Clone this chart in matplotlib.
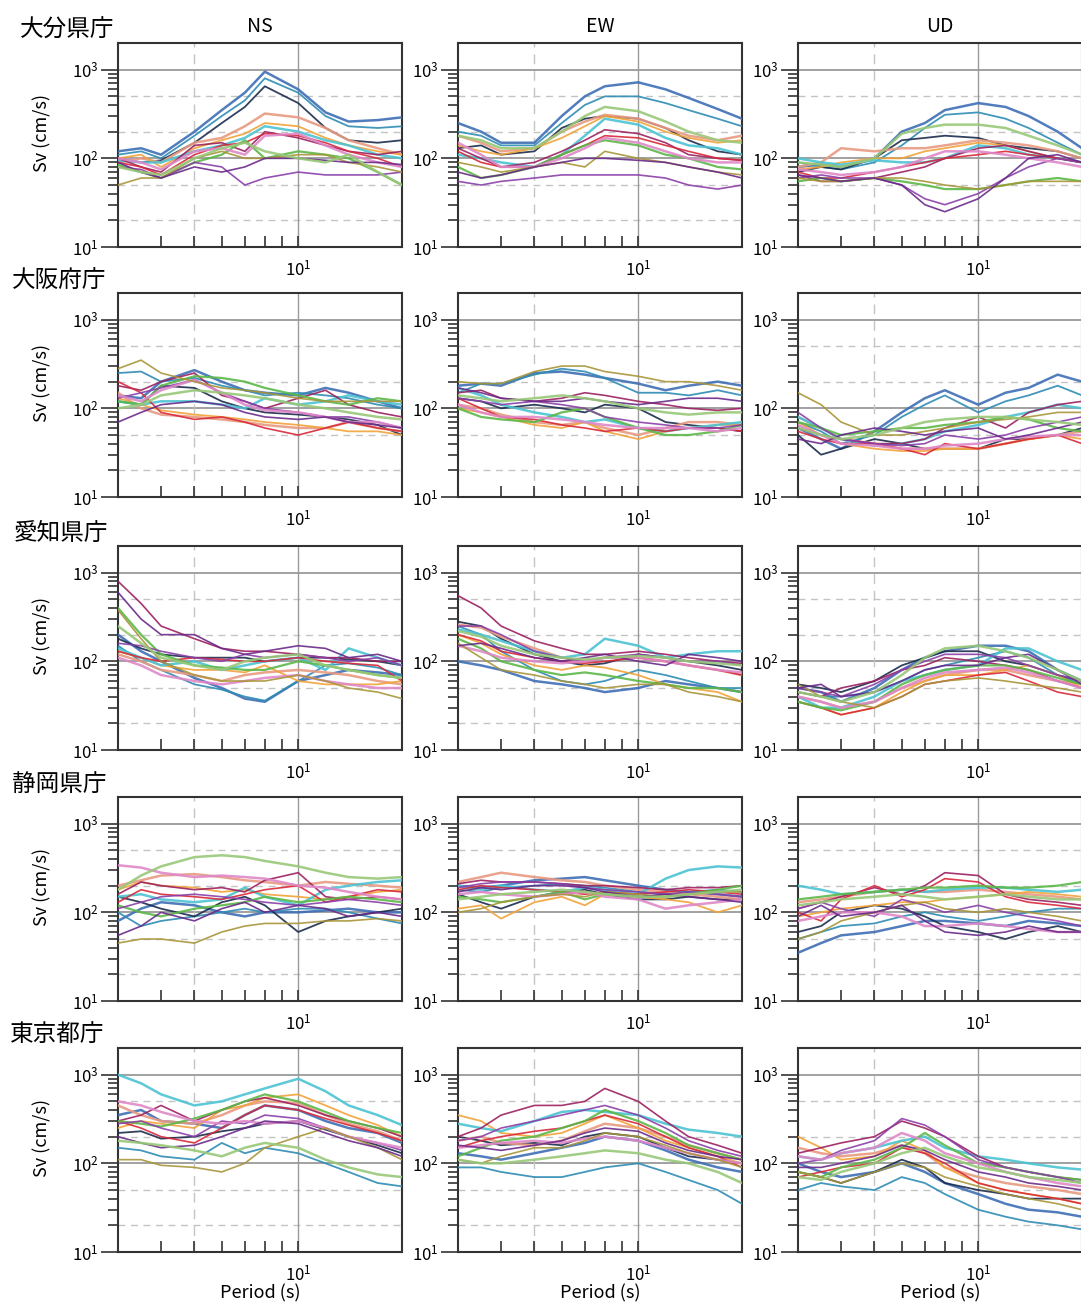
import matplotlib
matplotlib.use("Agg")
import matplotlib.pyplot as plt
from matplotlib.ticker import FixedLocator, NullFormatter

plt.rcParams['font.family'] = ['Noto Sans CJK JP', 'DejaVu Sans']
plt.rcParams['mathtext.fontset'] = 'custom'
plt.rcParams['mathtext.rm'] = 'Noto Sans CJK JP'

period = [3, 3.5, 4, 5, 6, 7, 8, 10, 12, 14, 17, 20]

stations = ["大分県庁", "大阪府庁", "愛知県庁", "静岡県庁", "東京都庁"]
station_x = [20, 12, 14, 12, 10]
components = ["NS", "EW", "UD"]

colors = ['#3f6fb5', '#2e8cb4', '#1c2c4c', '#e89a82', '#f2a33a', '#4cc3d2', '#9c2060',
          '#d8283a', '#5cb848', '#8a3fa8', '#df88c8', '#a89538', '#6a2a8a', '#98c878']
widths = [1.8, 1.3, 1.3, 1.8, 1.3, 1.8, 1.2, 1.2, 1.6, 1.2, 1.8, 1.2, 1.2, 1.8]

# Sv (cm/s), one row per record
oita_ns = [
    [120, 130, 110, 200, 350, 550, 950, 600, 330, 260, 270, 290],
    [110, 120, 100, 180, 300, 450, 800, 550, 300, 230, 220, 230],
    [100, 90, 95, 150, 250, 380, 650, 420, 220, 160, 150, 160],
    [90, 100, 90, 150, 170, 230, 320, 290, 220, 160, 130, 110],
    [100, 110, 80, 130, 160, 190, 250, 230, 170, 140, 120, 110],
    [95, 90, 90, 120, 140, 170, 230, 200, 160, 140, 110, 100],
    [100, 80, 70, 140, 150, 120, 200, 170, 140, 120, 110, 120],
    [90, 80, 65, 110, 140, 150, 190, 180, 150, 120, 100, 80],
    [85, 70, 60, 90, 110, 160, 100, 120, 110, 100, 70, 50],
    [80, 75, 60, 90, 80, 50, 60, 70, 65, 65, 65, 70],
    [100, 90, 75, 120, 130, 110, 180, 190, 140, 110, 90, 80],
    [50, 60, 60, 100, 120, 100, 100, 110, 110, 90, 80, 70],
    [90, 70, 60, 80, 70, 80, 100, 100, 95, 90, 90, 85],
    [80, 70, 65, 100, 130, 150, 120, 100, 90, 110, 70, 50],
]
oita_ew = [
    [250, 200, 150, 150, 300, 500, 650, 720, 600, 480, 360, 280],
    [200, 180, 140, 140, 250, 400, 500, 500, 420, 350, 280, 230],
    [130, 140, 110, 120, 220, 280, 300, 280, 220, 160, 120, 110],
    [180, 150, 120, 130, 200, 260, 310, 280, 220, 180, 160, 180],
    [140, 120, 110, 130, 170, 230, 300, 260, 200, 170, 150, 160],
    [110, 100, 90, 80, 110, 180, 280, 240, 170, 140, 130, 110],
    [130, 100, 80, 90, 120, 160, 210, 190, 150, 110, 100, 95],
    [120, 90, 80, 80, 110, 140, 180, 170, 140, 120, 100, 95],
    [80, 60, 65, 80, 110, 140, 160, 140, 110, 100, 80, 75],
    [55, 50, 55, 60, 65, 65, 65, 65, 60, 50, 45, 50],
    [150, 110, 80, 80, 100, 130, 170, 150, 120, 100, 90, 90],
    [90, 80, 70, 80, 90, 80, 120, 100, 90, 80, 70, 65],
    [70, 60, 65, 80, 90, 100, 100, 95, 90, 80, 70, 60],
    [180, 160, 130, 130, 200, 300, 380, 340, 260, 200, 160, 150],
]
oita_ud = [
    [80, 85, 80, 100, 200, 250, 350, 420, 380, 300, 200, 130],
    [90, 80, 75, 90, 140, 220, 310, 330, 280, 220, 150, 110],
    [70, 80, 75, 100, 160, 170, 180, 170, 140, 130, 120, 100],
    [80, 90, 130, 120, 130, 130, 140, 160, 150, 140, 120, 100],
    [75, 80, 90, 100, 100, 120, 130, 150, 140, 120, 100, 90],
    [100, 90, 85, 95, 90, 90, 100, 140, 130, 110, 100, 90],
    [65, 55, 55, 60, 70, 80, 100, 130, 140, 120, 100, 90],
    [70, 60, 60, 70, 80, 90, 100, 110, 120, 110, 100, 90],
    [55, 60, 55, 60, 55, 50, 45, 45, 50, 55, 60, 55],
    [60, 65, 60, 60, 50, 35, 30, 40, 60, 80, 100, 90],
    [75, 70, 65, 70, 80, 100, 120, 120, 110, 100, 90, 80],
    [60, 55, 55, 60, 60, 55, 50, 45, 50, 55, 55, 55],
    [65, 60, 55, 60, 50, 30, 25, 35, 60, 100, 110, 90],
    [90, 85, 80, 100, 190, 220, 240, 240, 220, 180, 140, 110],
]
osaka_ns = [
    [140, 130, 200, 270, 200, 160, 150, 140, 170, 150, 120, 100],
    [250, 260, 200, 220, 180, 160, 140, 150, 140, 130, 110, 100],
    [120, 110, 180, 170, 120, 100, 90, 85, 80, 75, 65, 50],
    [150, 100, 85, 80, 75, 70, 65, 60, 60, 70, 60, 55],
    [130, 110, 95, 85, 80, 75, 70, 65, 60, 55, 55, 50],
    [120, 110, 120, 120, 110, 100, 130, 110, 120, 140, 120, 110],
    [180, 160, 200, 250, 140, 120, 100, 130, 160, 110, 90, 80],
    [200, 150, 90, 75, 80, 70, 60, 50, 60, 70, 60, 55],
    [120, 110, 180, 230, 220, 200, 170, 140, 120, 110, 130, 120],
    [130, 150, 170, 210, 150, 120, 100, 90, 80, 80, 70, 60],
    [140, 120, 160, 210, 150, 110, 95, 90, 80, 70, 70, 60],
    [280, 350, 250, 200, 170, 160, 150, 130, 120, 120, 120, 120],
    [70, 90, 110, 120, 110, 90, 80, 75, 80, 70, 65, 60],
    [100, 110, 140, 160, 150, 140, 130, 110, 100, 90, 80, 75],
]
osaka_ew = [
    [180, 190, 180, 250, 260, 240, 220, 190, 160, 180, 200, 180],
    [150, 190, 190, 240, 280, 260, 220, 150, 150, 140, 160, 140],
    [130, 120, 100, 110, 100, 90, 110, 100, 70, 65, 60, 55],
    [110, 100, 85, 70, 65, 70, 60, 50, 60, 70, 70, 65],
    [100, 90, 80, 65, 60, 70, 55, 45, 55, 60, 65, 65],
    [170, 140, 110, 90, 80, 70, 75, 60, 55, 60, 65, 70],
    [150, 160, 130, 120, 130, 150, 140, 120, 110, 100, 95, 100],
    [130, 100, 80, 75, 65, 60, 55, 60, 55, 60, 60, 55],
    [100, 80, 75, 70, 90, 100, 80, 60, 50, 50, 55, 65],
    [130, 120, 110, 120, 110, 100, 80, 70, 65, 60, 60, 65],
    [110, 90, 80, 80, 75, 70, 65, 60, 60, 60, 55, 60],
    [200, 190, 190, 260, 300, 300, 260, 230, 200, 200, 180, 160],
    [170, 150, 130, 120, 120, 130, 120, 110, 120, 130, 130, 120],
    [140, 130, 120, 130, 140, 130, 120, 100, 90, 85, 90, 90],
]
osaka_ud = [
    [60, 45, 35, 55, 90, 130, 160, 110, 150, 170, 240, 200],
    [70, 55, 40, 50, 80, 110, 140, 90, 120, 140, 180, 140],
    [50, 30, 35, 45, 40, 35, 35, 35, 45, 45, 50, 60],
    [80, 60, 45, 40, 35, 35, 35, 35, 40, 45, 50, 55],
    [70, 50, 40, 35, 33, 33, 35, 35, 40, 45, 50, 45],
    [80, 60, 45, 38, 40, 45, 55, 65, 80, 90, 110, 100],
    [60, 50, 45, 40, 40, 45, 60, 80, 60, 90, 110, 120],
    [55, 45, 40, 40, 35, 30, 40, 35, 40, 45, 50, 40],
    [70, 60, 50, 55, 60, 60, 65, 70, 80, 75, 60, 55],
    [90, 60, 45, 40, 38, 40, 50, 45, 50, 60, 70, 80],
    [65, 50, 40, 38, 35, 35, 38, 40, 45, 48, 50, 50],
    [150, 110, 70, 50, 50, 55, 60, 70, 75, 80, 90, 90],
    [45, 40, 50, 60, 55, 50, 55, 60, 45, 50, 60, 70],
    [60, 50, 45, 50, 60, 70, 75, 80, 80, 75, 70, 65],
]
aichi_ns = [
    [200, 130, 100, 65, 50, 38, 35, 60, 70, 80, 75, 70],
    [150, 100, 80, 55, 48, 40, 36, 60, 90, 95, 85, 70],
    [180, 140, 120, 110, 110, 110, 100, 110, 110, 105, 100, 90],
    [120, 100, 80, 70, 60, 70, 75, 80, 75, 70, 60, 55],
    [130, 110, 90, 80, 80, 75, 90, 60, 55, 55, 55, 60],
    [140, 110, 90, 100, 80, 90, 100, 110, 80, 140, 110, 90],
    [800, 450, 250, 180, 140, 130, 130, 120, 110, 110, 100, 100],
    [130, 110, 100, 110, 105, 100, 100, 110, 100, 95, 90, 60],
    [400, 200, 120, 90, 85, 80, 80, 100, 90, 80, 70, 65],
    [160, 150, 130, 110, 100, 120, 110, 120, 110, 100, 110, 90],
    [110, 90, 70, 60, 55, 60, 65, 70, 60, 55, 50, 50],
    [380, 180, 100, 70, 60, 60, 60, 70, 60, 50, 45, 38],
    [600, 300, 200, 200, 140, 120, 130, 150, 140, 110, 120, 100],
    [250, 160, 110, 90, 80, 100, 110, 120, 90, 80, 70, 65],
]
aichi_ew = [
    [100, 90, 80, 60, 55, 50, 45, 50, 60, 55, 50, 45],
    [250, 200, 130, 80, 60, 55, 60, 80, 70, 60, 50, 50],
    [280, 250, 180, 120, 100, 90, 95, 120, 110, 100, 90, 80],
    [260, 240, 190, 140, 110, 100, 110, 110, 100, 90, 80, 70],
    [200, 160, 120, 90, 80, 90, 85, 70, 55, 50, 45, 35],
    [230, 200, 170, 130, 110, 120, 180, 150, 110, 120, 130, 130],
    [550, 400, 250, 170, 140, 120, 120, 130, 120, 110, 100, 95],
    [200, 170, 130, 110, 100, 95, 100, 110, 100, 90, 80, 70],
    [180, 140, 100, 80, 70, 75, 70, 60, 55, 50, 50, 45],
    [250, 250, 200, 130, 110, 100, 110, 120, 110, 100, 100, 90],
    [150, 130, 110, 100, 95, 100, 110, 110, 100, 90, 80, 75],
    [160, 110, 80, 70, 60, 55, 50, 55, 55, 45, 40, 35],
    [150, 160, 140, 110, 100, 110, 120, 100, 90, 120, 110, 100],
    [220, 190, 150, 120, 110, 105, 110, 115, 110, 100, 95, 90],
]
aichi_ud = [
    [50, 45, 35, 50, 80, 110, 130, 150, 150, 130, 80, 60],
    [45, 40, 40, 45, 60, 80, 90, 110, 130, 110, 70, 55],
    [55, 50, 45, 60, 90, 110, 130, 130, 100, 90, 70, 60],
    [40, 35, 30, 35, 50, 60, 70, 80, 80, 70, 60, 55],
    [35, 30, 25, 30, 45, 60, 70, 70, 80, 90, 70, 50],
    [40, 30, 30, 40, 60, 70, 80, 90, 140, 140, 100, 80],
    [45, 40, 50, 60, 80, 90, 110, 100, 90, 80, 60, 50],
    [35, 30, 25, 30, 40, 55, 60, 70, 75, 60, 45, 40],
    [35, 30, 28, 35, 55, 70, 80, 90, 90, 80, 65, 55],
    [50, 45, 40, 55, 80, 100, 120, 120, 110, 90, 70, 60],
    [40, 35, 30, 35, 50, 65, 75, 80, 85, 75, 60, 50],
    [55, 40, 35, 30, 40, 55, 60, 65, 60, 55, 50, 45],
    [50, 55, 40, 45, 60, 80, 90, 90, 110, 120, 80, 55],
    [45, 40, 35, 45, 70, 110, 140, 150, 130, 110, 80, 60],
]
shizuoka_ns = [
    [80, 110, 130, 120, 100, 90, 100, 100, 105, 110, 100, 100],
    [100, 70, 80, 90, 100, 110, 100, 110, 110, 100, 85, 75],
    [150, 130, 110, 90, 130, 150, 120, 60, 80, 90, 100, 110],
    [200, 230, 260, 270, 250, 230, 220, 200, 220, 210, 200, 190],
    [180, 220, 200, 190, 170, 180, 160, 150, 140, 150, 170, 180],
    [150, 160, 140, 130, 140, 190, 150, 120, 180, 200, 220, 230],
    [160, 220, 200, 180, 190, 170, 230, 280, 150, 140, 150, 140],
    [130, 180, 160, 150, 140, 160, 180, 200, 130, 150, 180, 170],
    [120, 100, 90, 110, 120, 130, 150, 130, 140, 150, 140, 130],
    [110, 130, 150, 160, 150, 140, 130, 120, 130, 140, 130, 120],
    [340, 320, 280, 250, 260, 250, 240, 200, 190, 170, 150, 140],
    [45, 50, 50, 45, 60, 70, 75, 75, 80, 80, 85, 80],
    [55, 70, 100, 80, 110, 130, 100, 120, 110, 90, 100, 90],
    [180, 260, 330, 420, 440, 420, 380, 330, 280, 250, 240, 250],
]
shizuoka_ew = [
    [200, 190, 200, 230, 240, 250, 230, 200, 180, 170, 160, 150],
    [180, 170, 190, 200, 210, 200, 190, 170, 160, 170, 180, 170],
    [160, 130, 110, 150, 170, 180, 160, 140, 140, 150, 140, 140],
    [220, 250, 280, 250, 230, 220, 200, 180, 170, 160, 150, 140],
    [110, 120, 85, 130, 150, 120, 160, 150, 140, 130, 100, 120],
    [200, 180, 200, 180, 170, 190, 180, 160, 240, 300, 330, 320],
    [210, 230, 220, 220, 210, 200, 200, 190, 180, 190, 190, 200],
    [180, 200, 190, 180, 170, 160, 170, 160, 170, 180, 170, 160],
    [150, 140, 130, 150, 170, 140, 160, 150, 150, 160, 180, 200],
    [190, 210, 220, 220, 210, 190, 180, 170, 160, 170, 160, 150],
    [160, 170, 160, 150, 160, 170, 150, 140, 110, 120, 130, 140],
    [100, 110, 130, 150, 160, 150, 170, 160, 150, 160, 170, 170],
    [170, 190, 180, 200, 200, 190, 170, 150, 160, 150, 140, 130],
    [140, 150, 160, 170, 180, 170, 160, 150, 150, 160, 170, 180],
]
shizuoka_ud = [
    [35, 45, 55, 60, 70, 80, 80, 75, 70, 80, 75, 70],
    [50, 60, 70, 75, 90, 100, 90, 80, 90, 100, 110, 110],
    [60, 70, 100, 120, 110, 90, 70, 60, 50, 60, 70, 60],
    [130, 140, 150, 170, 180, 170, 170, 180, 170, 160, 150, 140],
    [90, 100, 110, 120, 130, 130, 140, 150, 160, 170, 160, 150],
    [200, 180, 160, 170, 180, 170, 180, 190, 190, 180, 170, 180],
    [110, 130, 150, 190, 160, 200, 280, 260, 160, 140, 130, 120],
    [100, 80, 140, 200, 150, 180, 240, 220, 150, 130, 120, 110],
    [140, 150, 160, 170, 180, 190, 190, 200, 190, 190, 200, 220],
    [110, 130, 110, 90, 140, 120, 100, 120, 100, 90, 80, 70],
    [80, 90, 100, 100, 90, 70, 70, 75, 70, 65, 60, 60],
    [50, 60, 80, 100, 120, 130, 110, 100, 110, 100, 90, 80],
    [90, 120, 90, 100, 120, 80, 60, 55, 60, 70, 60, 60],
    [120, 130, 140, 150, 160, 150, 140, 150, 160, 150, 140, 140],
]
tokyo_ns = [
    [350, 400, 300, 280, 250, 350, 450, 400, 300, 250, 220, 170],
    [150, 140, 120, 110, 170, 130, 150, 130, 100, 80, 60, 55],
    [220, 230, 190, 200, 230, 250, 280, 300, 240, 200, 160, 130],
    [450, 350, 300, 280, 350, 450, 500, 480, 350, 280, 230, 180],
    [250, 300, 280, 250, 400, 450, 550, 600, 450, 350, 270, 200],
    [1000, 800, 600, 450, 500, 600, 700, 900, 650, 450, 350, 270],
    [300, 350, 450, 300, 400, 500, 550, 450, 350, 300, 250, 200],
    [300, 250, 200, 170, 250, 350, 450, 400, 320, 270, 220, 180],
    [300, 280, 260, 320, 400, 500, 600, 500, 380, 300, 250, 220],
    [280, 300, 250, 200, 300, 280, 350, 320, 250, 200, 170, 140],
    [500, 450, 380, 300, 280, 300, 280, 300, 250, 200, 170, 150],
    [110, 110, 95, 90, 80, 100, 150, 200, 250, 200, 150, 110],
    [200, 170, 150, 160, 200, 250, 300, 280, 220, 180, 150, 120],
    [180, 170, 160, 140, 120, 150, 170, 150, 110, 90, 75, 70],
]
tokyo_ew = [
    [130, 120, 110, 130, 150, 170, 200, 180, 140, 110, 90, 80],
    [90, 90, 80, 70, 70, 80, 90, 100, 80, 65, 50, 35],
    [200, 180, 160, 170, 160, 200, 220, 200, 150, 120, 110, 100],
    [180, 200, 170, 160, 180, 230, 280, 250, 200, 160, 130, 110],
    [350, 300, 220, 200, 220, 280, 350, 250, 180, 150, 120, 100],
    [280, 250, 230, 300, 380, 400, 380, 350, 280, 240, 220, 200],
    [200, 250, 350, 450, 450, 500, 700, 500, 300, 200, 160, 130],
    [150, 180, 200, 230, 250, 300, 350, 280, 200, 150, 120, 90],
    [120, 150, 180, 200, 250, 300, 400, 300, 220, 160, 130, 110],
    [180, 200, 250, 300, 350, 400, 450, 350, 250, 180, 140, 120],
    [150, 160, 170, 180, 170, 190, 200, 180, 150, 130, 110, 100],
    [110, 100, 120, 150, 150, 180, 220, 200, 160, 130, 110, 90],
    [160, 150, 140, 160, 180, 220, 250, 230, 170, 140, 120, 110],
    [110, 100, 100, 110, 120, 130, 140, 130, 110, 100, 80, 60],
]
tokyo_ud = [
    [100, 80, 70, 80, 100, 80, 60, 45, 35, 30, 28, 25],
    [50, 60, 55, 50, 70, 60, 45, 30, 25, 22, 20, 18],
    [80, 70, 60, 80, 110, 90, 60, 50, 45, 40, 40, 40],
    [150, 130, 120, 130, 160, 130, 90, 70, 60, 55, 50, 45],
    [200, 150, 110, 120, 180, 140, 90, 60, 50, 45, 40, 35],
    [120, 110, 130, 150, 180, 200, 150, 120, 110, 100, 90, 85],
    [130, 150, 170, 200, 300, 250, 200, 120, 90, 80, 70, 65],
    [70, 80, 90, 100, 150, 130, 100, 60, 50, 45, 40, 35],
    [80, 70, 90, 110, 150, 220, 160, 100, 90, 80, 70, 65],
    [100, 110, 140, 180, 320, 270, 200, 110, 90, 80, 70, 60],
    [120, 110, 130, 150, 220, 180, 130, 100, 80, 70, 60, 55],
    [80, 70, 60, 80, 100, 90, 70, 55, 45, 40, 35, 30],
    [90, 90, 100, 120, 160, 140, 110, 80, 70, 60, 55, 50],
    [70, 65, 80, 100, 130, 150, 120, 90, 80, 70, 65, 60],
]

panels = [
    [oita_ns, oita_ew, oita_ud],
    [osaka_ns, osaka_ew, osaka_ud],
    [aichi_ns, aichi_ew, aichi_ud],
    [shizuoka_ns, shizuoka_ew, shizuoka_ud],
    [tokyo_ns, tokyo_ew, tokyo_ud],
]

W, H = 1081, 1308
fig = plt.figure(figsize=(W / 100, H / 100), dpi=100)

col_left = [118, 458, 798]
row_top = [43, 293, 546, 797, 1048]
aw, ah = 284, 204

for r in range(5):
    for c in range(3):
        ax = fig.add_axes([col_left[c] / W, 1 - (row_top[r] + ah) / H, aw / W, ah / H])
        for k, sv in enumerate(panels[r][c]):
            ax.plot(period, sv, color=colors[k], lw=widths[k], alpha=0.9, zorder=3)
        ax.set_xscale('log')
        ax.set_yscale('log')
        ax.set_xlim(3, 20)
        ax.set_ylim(10, 2000)

        # grid: solid at decades, dashed in between
        for yv in [100, 1000]:
            ax.axhline(yv, color='#9a9a9a', lw=1.3, zorder=1)
        for yv in [20, 50, 200, 500]:
            ax.axhline(yv, color='#c4c4c4', lw=1.0, ls=(0, (5, 4)), zorder=1)
        ax.axvline(10, color='#9a9a9a', lw=1.0, zorder=1)
        ax.axvline(5, color='#c4c4c4', lw=1.0, ls=(0, (7, 5)), zorder=1)

        ax.xaxis.set_major_locator(FixedLocator([10]))
        ax.xaxis.set_minor_locator(FixedLocator([4, 5, 6, 7, 8, 9]))
        ax.set_xticklabels(['$\\mathdefault{10^{1}}$'])
        ax.xaxis.set_minor_formatter(NullFormatter())
        ax.tick_params(axis='x', which='both', direction='in', length=8, width=1.2,
                       labelsize=12, pad=9, color='#333333')

        ax.yaxis.set_major_locator(FixedLocator([10, 100, 1000]))
        ax.yaxis.set_minor_locator(FixedLocator([20, 30, 40, 50, 60, 70, 80, 90,
                                                 200, 300, 400, 500, 600, 700, 800, 900]))
        ax.set_yticklabels(['$\\mathdefault{10^{1}}$', '$\\mathdefault{10^{2}}$',
                            '$\\mathdefault{10^{3}}$'])
        ax.yaxis.set_minor_formatter(NullFormatter())
        ax.tick_params(axis='y', which='major', direction='out', length=12, width=1.2,
                       labelsize=12, pad=2, color='#333333')
        ax.tick_params(axis='y', which='minor', direction='out', length=7, width=1.2,
                       color='#333333')

        for sp in ax.spines.values():
            sp.set_linewidth(1.5)
            sp.set_color('#333333')

        if c == 0:
            fig.text(42 / W, 1 - (row_top[r] + ah / 2 - 12) / H, "Sv (cm/s)",
                     rotation=90, ha='center', va='center', fontsize=13)
        if r == 4:
            fig.text((col_left[c] + aw / 2) / W, 1 - 1293 / H, "Period (s)",
                     ha='center', va='center', fontsize=13)

    fig.text(station_x[r] / W, 1 - (row_top[r] - 13) / H, stations[r], ha='left',
             va='center', fontsize=17)

for c in range(3):
    fig.text((col_left[c] + 142) / W, 1 - 26 / H, components[c], ha='center',
             va='center', fontsize=14)

fig.savefig("out.png", dpi=100)
